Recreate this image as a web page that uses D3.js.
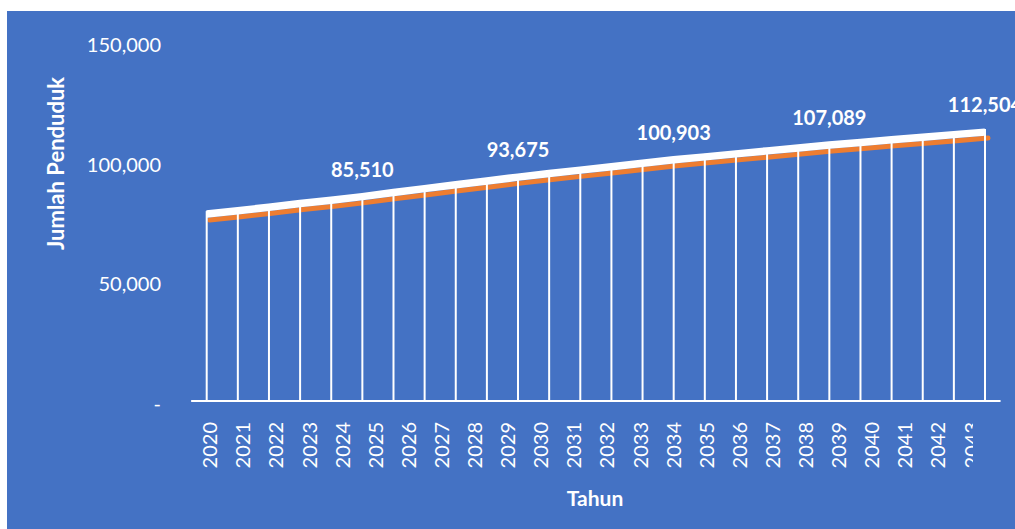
<!DOCTYPE html>
<html>
<head>
<meta charset="utf-8">
<script src="https://cdn.jsdelivr.net/npm/d3@7"></script>
<style>
  html, body { margin: 0; padding: 0; background: #ffffff; }
  svg { display: block; }
  text { font-family: Lato, "Open Sans", sans-serif; fill: #ffffff; }
</style>
</head>
<body>
<svg id="chart" width="1015" height="529"></svg>
<script>
// ---- data ----
const years = [2020,2021,2022,2023,2024,2025,2026,2027,2028,2029,2030,2031,2032,2033,2034,2035,2036,2037,2038,2039,2040,2041,2042,2043,2044,2045];
const population = [78200,79600,81100,82600,84000,85510,87200,88850,90450,92050,93675,95150,96600,98050,99500,100903,102150,103400,104650,105850,107089,108200,109300,110400,111450,112504];
const labeledYears = [2025,2030,2035,2040,2045];
const yTicks = [0,50000,100000,150000];
const yTickLabels = ["-","50,000","100,000","150,000"];
const yTitle = "Jumlah Penduduk";
const xTitle = "Tahun";

const svg = d3.select("#chart");
const W = 1015, H = 529;

svg.append("rect").attr("x",7).attr("y",11).attr("width",W-7).attr("height",H-11).attr("fill","#4472C4");

const y = d3.scaleLinear().domain([0,150000]).range([401, 42.5]);
const x = d3.scalePoint().domain(years).range([206.7, 985]);
const step = x.step();
// category label axis (wider than visible area, clipped on right)
const xl = d3.scalePoint().domain(years).range([210, 210 + 33.1*(years.length-1)]);

const data = years.map((yr,i)=>({year:yr, value:population[i]}));

// y axis
const yAxis = d3.axisLeft(y).tickValues(yTicks).tickSize(0).tickPadding(0)
  .tickFormat((d,i)=>yTickLabels[i]);
const gy = svg.append("g").attr("transform","translate(161,0)").call(yAxis);
gy.select(".domain").remove();
gy.selectAll("text").attr("font-size",20).attr("fill","#fff").attr("font-family","Lato, sans-serif").attr("dy","0.45em");

// orange shadow line
const line = d3.line().x(d=>x(d.year)).y(d=>y(d.value));
svg.append("path").datum(data).attr("d",line)
  .attr("transform","translate(3,6)")
  .attr("fill","none").attr("stroke","#ED7D31").attr("stroke-width",5)
  .attr("stroke-linecap","round");

// white line
svg.append("path").datum(data).attr("d",line)
  .attr("fill","none").attr("stroke","#ffffff").attr("stroke-width",7.5)
  .attr("stroke-linecap","butt");

// drop lines
svg.append("g").selectAll("line").data(data).join("line")
  .attr("x1",d=>x(d.year)).attr("x2",d=>x(d.year))
  .attr("y1",d=>y(d.value)-3).attr("y2",y(0))
  .attr("stroke","#fff").attr("stroke-width",2);

// x axis line
svg.append("line").attr("x1",x(years[0])-step/2).attr("x2",x(years[years.length-1])+step/2)
  .attr("y1",y(0)).attr("y2",y(0)).attr("stroke","#fff").attr("stroke-width",2);

// x tick labels (clipped on the right like the reference)
svg.append("clipPath").attr("id","lblclip").append("rect")
  .attr("x",0).attr("y",0).attr("width",973).attr("height",H);
svg.append("g").attr("clip-path","url(#lblclip)")
  .selectAll("text").data(years.filter(d=>xl(d) < 985)).join("text")
  .attr("transform",d=>`translate(${xl(d)},422) rotate(-90)`)
  .attr("text-anchor","end").attr("dy","0.36em")
  .attr("font-size",20).text(d=>d);

// data labels
svg.append("g").selectAll("text").data(data.filter(d=>labeledYears.includes(d.year))).join("text")
  .attr("x",d=>x(d.year)).attr("y",d=>y(d.value)-20)
  .attr("text-anchor","middle").attr("font-size",20).attr("font-weight","bold")
  .text(d=>d3.format(",")(d.value));

// axis titles
svg.append("text").attr("transform","translate(64,163.5) rotate(-90)")
  .attr("text-anchor","middle").attr("font-size",22).attr("font-weight","bold").text(yTitle);
svg.append("text").attr("x",595).attr("y",506)
  .attr("text-anchor","middle").attr("font-size",21).attr("font-weight","bold").text(xTitle);
</script>
</body>
</html>
